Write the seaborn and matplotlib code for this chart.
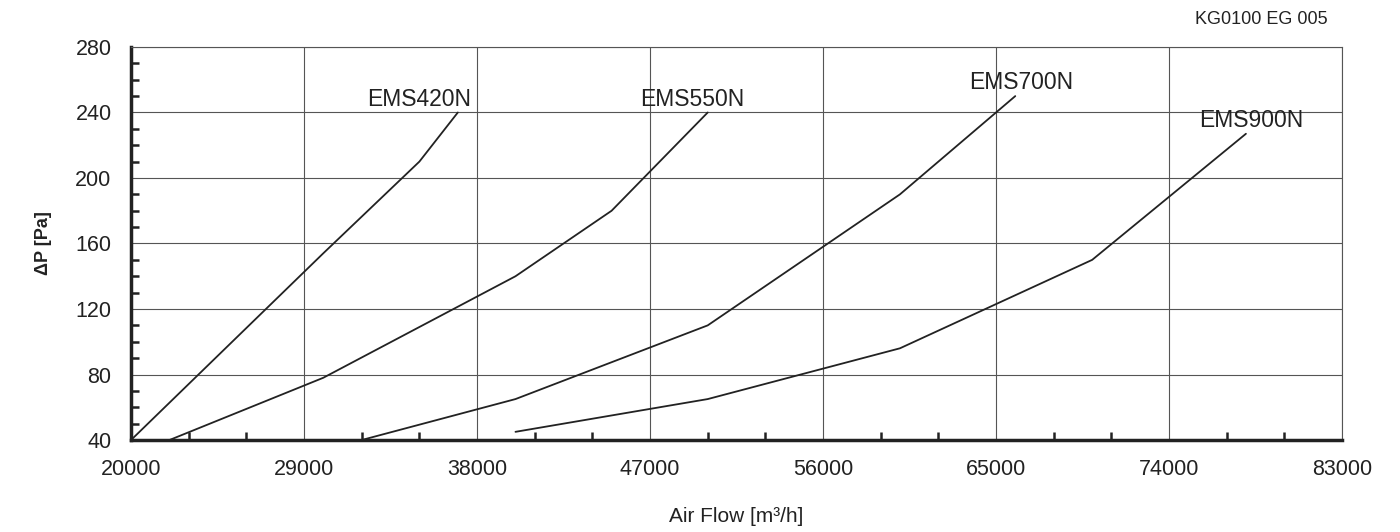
import numpy as np
import pandas as pd
import matplotlib
matplotlib.use("Agg")
import matplotlib.pyplot as plt
import seaborn as sns
from matplotlib.ticker import FixedLocator, MultipleLocator

# ---- data ----
ems420_x = [20000, 25000, 30000, 35000, 37000]
ems420_y = [40, 97, 154, 210, 240]
ems550_x = [22000, 30000, 40000, 45000, 50000]
ems550_y = [40, 78, 140, 180, 240]
ems700_x = [32000, 40000, 50000, 60000, 66000]
ems700_y = [40, 65, 110, 190, 250]
ems900_x = [40000, 50000, 60000, 70000, 78000]
ems900_y = [45, 65, 96, 150, 227]
series_names = ["EMS420N", "EMS550N", "EMS700N", "EMS900N"]
x_ticks = [20000, 29000, 38000, 47000, 56000, 65000, 74000, 83000]
y_ticks = [40, 80, 120, 160, 200, 240, 280]

sns.set_theme(style="white")
plt.rcParams["font.family"] = ["Liberation Sans", "DejaVu Sans"]

frames = []
for name, xs, ys in zip(series_names,
                        [ems420_x, ems550_x, ems700_x, ems900_x],
                        [ems420_y, ems550_y, ems700_y, ems900_y]):
    frames.append(pd.DataFrame({"flow": xs, "dp": ys, "model": name}))
df = pd.concat(frames, ignore_index=True)

fig = plt.figure(figsize=(14, 5.32), dpi=100)
ax = fig.add_axes([0.0936, 0.1729, 0.8650, 0.7388])

sns.lineplot(data=df, x="flow", y="dp", hue="model", units="model",
             estimator=None, sort=False, legend=False,
             palette=["#222222"] * 4, linewidth=1.3, ax=ax)

ax.set_xlim(x_ticks[0], x_ticks[-1])
ax.set_ylim(y_ticks[0], y_ticks[-1])
ax.set_xticks(x_ticks)
ax.set_yticks(y_ticks)
x_step = (x_ticks[1] - x_ticks[0]) / 3
ax.xaxis.set_minor_locator(FixedLocator(np.arange(x_ticks[0], x_ticks[-1] + 1, x_step)))
ax.yaxis.set_minor_locator(MultipleLocator(10))
ax.set_xticklabels([str(v) for v in x_ticks])
ax.set_yticklabels([str(v) for v in y_ticks])

ax.grid(True, which="major", color="#555555", linewidth=0.8)
ax.tick_params(axis="both", which="major", direction="inout", length=16,
               width=2.2, color="#222222", labelsize=15.5, labelcolor="#222222")
ax.tick_params(axis="x", which="major", pad=6)
ax.tick_params(axis="y", which="major", pad=6)
ax.tick_params(axis="both", which="minor", direction="in", length=6,
               width=1.8, color="#222222")
ax.tick_params(axis="x", which="minor", bottom=True)
ax.tick_params(axis="y", which="minor", left=True)

for side in ["left", "bottom"]:
    ax.spines[side].set_linewidth(2.5)
    ax.spines[side].set_color("#222222")
for side in ["top", "right"]:
    ax.spines[side].set_linewidth(0.8)
    ax.spines[side].set_color("#555555")

ax.set_xlabel("Air Flow [m³/h]", fontsize=15, color="#222222", labelpad=19)
ax.set_ylabel("ΔP [Pa]", fontsize=13, fontweight="bold", color="#222222", labelpad=17)

label_pos = {"EMS420N": (35000, 241), "EMS550N": (49200, 241),
             "EMS700N": (66300, 251), "EMS900N": (78300, 228)}
for name in series_names:
    lx, ly = label_pos[name]
    ax.text(lx, ly, name, ha="center", va="bottom", fontsize=16.5, color="#222222")

fig.text(0.948, 0.948, "KG0100 EG 005", ha="right", va="bottom", fontsize=13, color="#222222")

fig.savefig("out.png", dpi=100)
